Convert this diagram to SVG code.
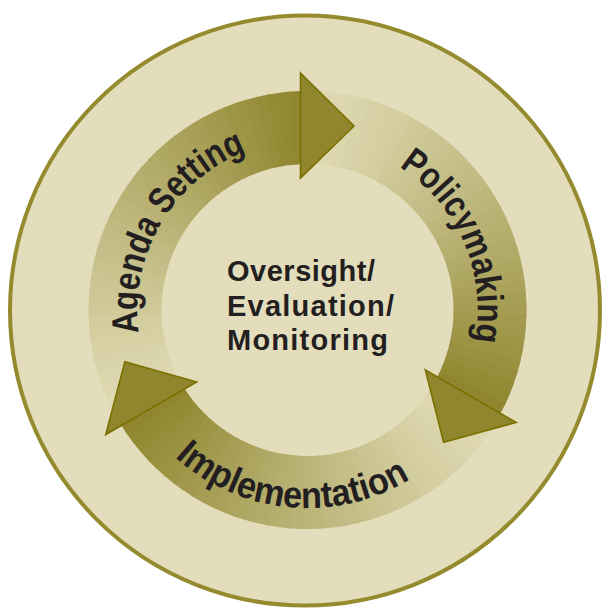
<svg xmlns="http://www.w3.org/2000/svg" xmlns:xlink="http://www.w3.org/1999/xlink" width="602" height="608" viewBox="0 0 602 608">
<style>
.lbl{font-family:"Liberation Sans",Arial,sans-serif;font-weight:bold;fill:#231f20}
.ring{font-size:37px}
.ctr{font-size:29px}
.head{fill:#8f862e;stroke:#7b7100;stroke-width:1.6;stroke-linejoin:miter}
</style>
<defs>
<path id="sl" d="M219,0A219,219 0 0 1 218.57,13.75L145.71,9.17A146,146 0 0 0 146,0Z"/>
<g id="body">
<use href="#sl" transform="rotate(148.3)" fill="#e1dbb5"/>
<use href="#sl" transform="rotate(151.3)" fill="#dfd9b3"/>
<use href="#sl" transform="rotate(154.3)" fill="#ded8b1"/>
<use href="#sl" transform="rotate(157.3)" fill="#ddd6af"/>
<use href="#sl" transform="rotate(160.3)" fill="#dbd5ac"/>
<use href="#sl" transform="rotate(163.3)" fill="#d9d3a9"/>
<use href="#sl" transform="rotate(166.3)" fill="#d8d1a7"/>
<use href="#sl" transform="rotate(169.3)" fill="#d6d0a4"/>
<use href="#sl" transform="rotate(172.3)" fill="#d4cea1"/>
<use href="#sl" transform="rotate(175.3)" fill="#d2cc9e"/>
<use href="#sl" transform="rotate(178.3)" fill="#d0ca9b"/>
<use href="#sl" transform="rotate(181.3)" fill="#cec897"/>
<use href="#sl" transform="rotate(184.3)" fill="#ccc694"/>
<use href="#sl" transform="rotate(187.3)" fill="#cac491"/>
<use href="#sl" transform="rotate(190.3)" fill="#c8c28d"/>
<use href="#sl" transform="rotate(193.3)" fill="#c6bf8a"/>
<use href="#sl" transform="rotate(196.3)" fill="#c4bd87"/>
<use href="#sl" transform="rotate(199.3)" fill="#c2bb83"/>
<use href="#sl" transform="rotate(202.3)" fill="#c0b980"/>
<use href="#sl" transform="rotate(205.3)" fill="#beb77c"/>
<use href="#sl" transform="rotate(208.3)" fill="#bcb479"/>
<use href="#sl" transform="rotate(211.3)" fill="#bab275"/>
<use href="#sl" transform="rotate(214.3)" fill="#b7b071"/>
<use href="#sl" transform="rotate(217.3)" fill="#b5ae6e"/>
<use href="#sl" transform="rotate(220.3)" fill="#b3ab6a"/>
<use href="#sl" transform="rotate(223.3)" fill="#b1a966"/>
<use href="#sl" transform="rotate(226.3)" fill="#aea762"/>
<use href="#sl" transform="rotate(229.3)" fill="#aca45f"/>
<use href="#sl" transform="rotate(232.3)" fill="#aaa25b"/>
<use href="#sl" transform="rotate(235.3)" fill="#a79f57"/>
<use href="#sl" transform="rotate(238.3)" fill="#a59d53"/>
<use href="#sl" transform="rotate(241.3)" fill="#a39a4f"/>
<use href="#sl" transform="rotate(244.3)" fill="#a0984b"/>
<use href="#sl" transform="rotate(247.3)" fill="#9e9647"/>
<use href="#sl" transform="rotate(250.3)" fill="#9c9343"/>
<use href="#sl" transform="rotate(253.3)" fill="#99913f"/>
<use href="#sl" transform="rotate(256.3)" fill="#978e3b"/>
<use href="#sl" transform="rotate(259.3)" fill="#948b37"/>
<use href="#sl" transform="rotate(262.3)" fill="#928933"/>
<use href="#sl" transform="rotate(265.3)" fill="#8f862f"/>
</g>
<polygon id="head" class="head" points="-7,-237 46.5,-184 -7,-132"/>
<path id="pA" d="M159.4,393.5 A170,170 0 0 1 309.3,140.0"/>
<path id="pP" d="M327.0,141.1 A170,170 0 0 1 444.0,411.4"/>
<path id="pI" d="M127.5,392.4 A198,198 0 0 0 468.9,424.7"/>
</defs>

<circle id="frame" cx="305" cy="310.5" r="295" fill="#e3ddbc" stroke="#958b2e" stroke-width="4"/>

<g id="connectors" transform="translate(307.5,310)">
<use href="#body"/>
<use href="#body" transform="rotate(120)"/>
<use href="#body" transform="rotate(240)"/>
<use href="#head"/>
<use href="#head" transform="rotate(120)"/>
<use href="#head" transform="rotate(240)"/>
</g>

<g id="agenda-setting">
<text class="lbl ring"><textPath href="#pA" startOffset="50%" text-anchor="middle" textLength="227" lengthAdjust="spacingAndGlyphs">Agenda Setting</textPath></text>
</g>
<g id="policymaking">
<text class="lbl ring"><textPath href="#pP" startOffset="50%" text-anchor="middle" textLength="202" lengthAdjust="spacingAndGlyphs">Policymaking</textPath></text>
</g>
<g id="implementation">
<text class="lbl ring"><textPath href="#pI" startOffset="50%" text-anchor="middle" textLength="253" lengthAdjust="spacingAndGlyphs">Implementation</textPath></text>
</g>
<g id="oversight">
<text class="lbl ctr" x="227" y="281" textLength="148">Oversight/</text>
<text class="lbl ctr" x="227" y="316" textLength="167">Evaluation/</text>
<text class="lbl ctr" x="227" y="350" textLength="161">Monitoring</text>
</g>
</svg>
